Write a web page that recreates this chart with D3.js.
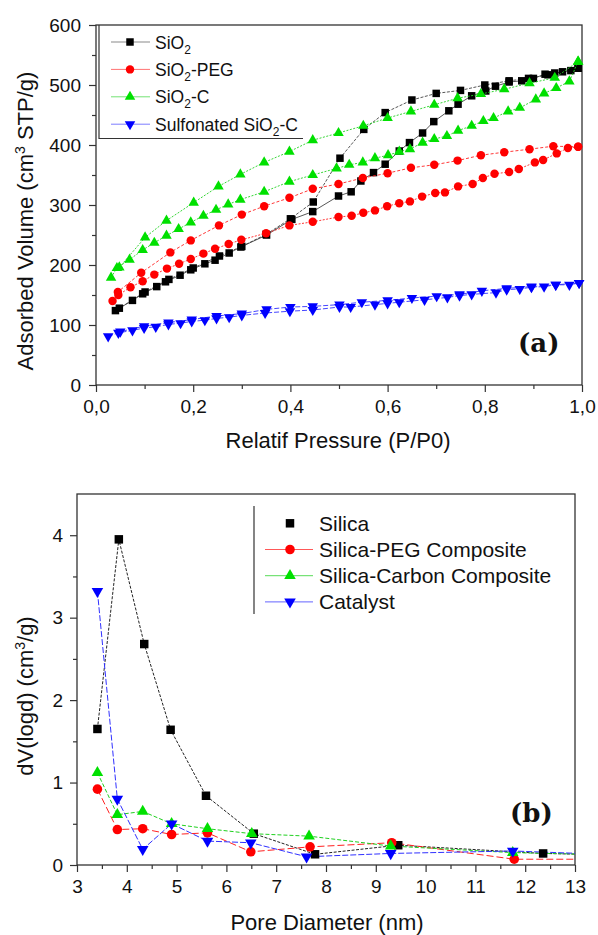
<!DOCTYPE html>
<html>
<head>
<meta charset="utf-8">
<script src="https://cdn.jsdelivr.net/npm/d3@7"></script>
<style>
  html, body { margin: 0; padding: 0; background: #fff; }
  svg { display: block; font-family: "Liberation Sans", Arial, sans-serif; }
</style>
</head>
<body>
<svg id="fig" width="598" height="935"></svg>
<script>
// ---------- Panel (a): N2 adsorption / desorption isotherms ----------
const pressureTicks = [0, 0.2, 0.4, 0.6, 0.8, 1.0];
const pressureMinor = [0.1, 0.3, 0.5, 0.7, 0.9];
const volumeTicks = [0, 100, 200, 300, 400, 500, 600];
const volumeMinor = [50, 150, 250, 350, 450, 550];
const legendA = ["SiO2", "SiO2-PEG", "SiO2-C", "Sulfonated SiO2-C"];

// SiO2
const sio2AdsP = [0.040,0.075,0.096,0.125,0.143,0.173,0.195,0.224,0.245,0.274,0.298,0.351,0.403,0.446,0.499,0.525,0.545,0.571,0.595,0.624,0.645,0.672,0.695,0.726,0.745,0.773,0.802,0.822,0.850,0.876,0.900,0.924,0.944,0.977,0.992];
const sio2AdsV = [124,141,152,164,172,183,192,202,208,220,230,250,276,289,315,322,340,354,368,390,404,420,439,457,468,482,490,498,505,507,511,518,520,524,528];
const sio2DesP = [0.992,0.960,0.930,0.890,0.850,0.800,0.750,0.700,0.650,0.595,0.551,0.502,0.447,0.400,0.350,0.300,0.254,0.200,0.150,0.101,0.048];
const sio2DesV = [528,522,517,511,507,500,491,486,475,454,426,378,305,277,251,231,215,195,176,155,128];

// SiO2-PEG
const pegAdsP = [0.034,0.046,0.071,0.096,0.120,0.146,0.171,0.195,0.221,0.245,0.273,0.299,0.350,0.398,0.446,0.499,0.526,0.550,0.574,0.599,0.624,0.646,0.671,0.698,0.718,0.745,0.775,0.796,0.820,0.850,0.870,0.903,0.920,0.948,0.971,0.992];
const pegAdsV = [140,150,163,173,184,194,202,210,219,227,235,242,253,266,272,280,282,287,291,298,303,306,314,320,321,331,335,345,352,355,360,371,375,386,395,397];
const pegDesP = [0.992,0.941,0.892,0.840,0.792,0.744,0.696,0.648,0.600,0.549,0.499,0.446,0.398,0.346,0.300,0.253,0.195,0.153,0.093,0.045];
const pegDesV = [397,398,393,388,383,374,367,362,353,345,335,327,312,298,284,266,241,221,187,155];

// SiO2-C
const carbAdsP = [0.031,0.043,0.069,0.096,0.120,0.145,0.170,0.195,0.221,0.247,0.272,0.297,0.346,0.398,0.446,0.495,0.521,0.549,0.574,0.601,0.624,0.646,0.672,0.696,0.722,0.745,0.773,0.797,0.818,0.848,0.872,0.905,0.922,0.947,0.974,0.992];
const carbAdsV = [179,195,209,225,237,249,260,271,282,292,301,309,322,339,350,361,367,371,378,383,389,393,404,410,415,424,432,440,445,456,462,476,486,495,506,539];
const carbDesP = [0.992,0.944,0.892,0.840,0.792,0.744,0.696,0.648,0.600,0.550,0.499,0.446,0.398,0.346,0.297,0.252,0.201,0.145,0.101,0.048];
const carbDesV = [539,512,503,493,485,478,467,456,445,432,420,408,389,371,351,331,304,274,246,196];

// Sulfonated SiO2-C
const sulfAdsP = [0.025,0.046,0.075,0.099,0.123,0.149,0.174,0.197,0.224,0.248,0.274,0.300,0.348,0.399,0.446,0.501,0.524,0.574,0.600,0.624,0.676,0.723,0.748,0.773,0.823,0.845,0.872,0.896,0.922,0.946,0.974,0.994];
const sulfAdsV = [81,87,91,95,97,101,103,106,108,111,113,116,120,123,125,130,130,134,136,138,142,146,149,151,154,159,160,163,164,167,167,170];
const sulfDesP = [0.994,0.946,0.896,0.845,0.794,0.748,0.701,0.650,0.600,0.547,0.501,0.446,0.400,0.351,0.300,0.248,0.197,0.149,0.099,0.050];
const sulfDesV = [170,167,164,161,157,151,148,145,141,138,134,131,130,126,119,115,109,104,98,89];

// ---------- Panel (b): pore size distribution ----------
const diameterTicks = [3,4,5,6,7,8,9,10,11,12,13];
const diameterMinor = [3.5,4.5,5.5,6.5,7.5,8.5,9.5,10.5,11.5,12.5];
const dvTicks = [0, 1, 2, 3, 4];
const dvMinor = [0.5, 1.5, 2.5, 3.5];
const legendB = ["Silica", "Silica-PEG Composite", "Silica-Carbon Composite", "Catalyst"];

const silicaD = [3.41,3.84,4.35,4.88,5.59,6.55,7.78,9.45,12.36,14.0];
const silicaV = [1.65,3.95,2.68,1.64,0.84,0.38,0.13,0.24,0.14,0.12];
const pegD    = [3.41,3.81,4.32,4.90,5.62,6.49,7.68,9.32,11.78,14.0];
const pegV    = [0.92,0.43,0.44,0.37,0.39,0.16,0.22,0.27,0.07,0.07];
const carbD   = [3.41,3.81,4.32,4.90,5.62,6.51,7.66,9.30,11.75,14.0];
const carbV   = [1.12,0.61,0.65,0.50,0.44,0.38,0.35,0.23,0.15,0.12];
const catD    = [3.41,3.81,4.32,4.90,5.62,6.49,7.61,9.30,11.75,14.0];
const catV    = [3.32,0.80,0.19,0.50,0.29,0.27,0.10,0.14,0.17,0.12];

const zip = (xs, ys) => xs.map((x, i) => [x, ys[i]]);
const svg = d3.select("#fig");
const tickColor = "#333";

// label text with the "2" of SiO2 set as a subscript
function richLabel(sel, str, subSize) {
  const parts = str.split("SiO2");
  let shiftBack = false;
  parts.forEach((p, i) => {
    if (p) {
      const t = sel.append("tspan").text(p);
      if (shiftBack) t.attr("dy", -5);
      shiftBack = false;
    }
    if (i < parts.length - 1) {
      sel.append("tspan").text("SiO");
      sel.append("tspan").attr("dy", 5).attr("font-size", subSize).text("2");
      shiftBack = true;
    }
  });
}

function drawAxes(g, x, y, opt) {
  const bottom = y.range()[0], top = y.range()[1];
  const left = x.range()[0], right = x.range()[1];
  const major = d3.axisBottom(x).tickValues(opt.xTicks).tickSize(7).tickPadding(8).tickFormat(opt.xFmt);
  const minor = d3.axisBottom(x).tickValues(opt.xMinor).tickSize(4).tickFormat("");
  const ymaj = d3.axisLeft(y).tickValues(opt.yTicks).tickSize(7).tickPadding(opt.yPad).tickFormat(opt.yFmt);
  const ymin = d3.axisLeft(y).tickValues(opt.yMinor).tickSize(4).tickFormat("");
  [[major, "x"], [minor, "x"], [ymaj, "y"], [ymin, "y"]].forEach(([ax, k]) => {
    const a = g.append("g")
      .attr("transform", k === "x" ? `translate(0,${bottom})` : `translate(${left},0)`)
      .call(ax);
    a.select(".domain").remove();
    a.selectAll("line").attr("stroke", tickColor).attr("stroke-width", 1.2);
    a.selectAll("text").attr("font-size", 19).attr("fill", "#111")
      .attr("font-family", '"Liberation Sans", Arial, sans-serif');
  });
  g.append("rect").attr("x", left).attr("y", top)
    .attr("width", right - left).attr("height", bottom - top)
    .attr("fill", "none").attr("stroke", tickColor).attr("stroke-width", 1.3);
}

// ================= Panel (a) =================
const xa = d3.scaleLinear().domain([0, 1]).range([96, 582]);
const ya = d3.scaleLinear().domain([0, 600]).range([385, 25]);
const ga = svg.append("g");
const commaFmt = d => d3.format(".1f")(d).replace(".", ",");
drawAxes(ga, xa, ya, {
  xTicks: pressureTicks, xMinor: pressureMinor, xFmt: commaFmt,
  yTicks: volumeTicks, yMinor: volumeMinor, yFmt: d3.format("d"), yPad: 8
});

const seriesA = [
  { color: "#000", line: "#444", sym: d3.symbolSquare, size: 56, rot: 0,
    ads: zip(sio2AdsP, sio2AdsV), des: zip(sio2DesP, sio2DesV), dashA: "none", dashD: "3,1.5" },
  { color: "#ff0000", line: "#ff2020", sym: d3.symbolCircle, size: 56, rot: 0,
    ads: zip(pegAdsP, pegAdsV), des: zip(pegDesP, pegDesV), dashA: "2,1.5", dashD: "3,2" },
  { color: "#00e000", line: "#20d020", sym: d3.symbolTriangle, size: 48, rot: 0,
    ads: zip(carbAdsP, carbAdsV), des: zip(carbDesP, carbDesV), dashA: "2,1.5", dashD: "2,1.5" },
  { color: "#0000ff", line: "#3030ff", sym: d3.symbolTriangle, size: 48, rot: 180,
    ads: zip(sulfAdsP, sulfAdsV), des: zip(sulfDesP, sulfDesV), dashA: "5,2", dashD: "5,2" }
];

const lineA = d3.line().x(d => xa(d[0])).y(d => ya(d[1]));
seriesA.forEach(s => {
  [[s.ads, s.dashA], [s.des, s.dashD]].forEach(([pts, dash]) => {
    ga.append("path").attr("d", lineA(pts)).attr("fill", "none")
      .attr("stroke", s.line).attr("stroke-width", 0.9).attr("stroke-dasharray", dash);
  });
  const sym = d3.symbol().type(s.sym).size(s.size)();
  ga.append("g").selectAll("path").data(s.ads.concat(s.des)).join("path")
    .attr("d", sym)
    .attr("transform", d => `translate(${xa(d[0])},${ya(d[1])}) rotate(${s.rot})`)
    .attr("fill", s.color);
});

// legend (a)
const legA = ga.append("g");
legA.append("path").attr("d", "M99,25V138.5H303").attr("fill", "none")
  .attr("stroke", tickColor).attr("stroke-width", 1.2);
seriesA.forEach((s, i) => {
  const cy = 42 + i * 27.4;
  legA.append("line").attr("x1", 111).attr("x2", 150).attr("y1", cy).attr("y2", cy)
    .attr("stroke", s.line).attr("stroke-width", 0.9).attr("stroke-opacity", 0.7);
  legA.append("path").attr("d", d3.symbol().type(s.sym).size(s.size)())
    .attr("transform", `translate(130,${cy}) rotate(${s.rot})`).attr("fill", s.color);
  const t = legA.append("text").attr("x", 155).attr("y", cy + 6.5)
    .attr("font-size", 17.5).attr("fill", "#111");
  richLabel(t, legendA[i], 12);
});

// titles (a)
ga.append("text").attr("x", 338).attr("y", 448).attr("text-anchor", "middle")
  .attr("font-size", 22).attr("fill", "#111").text("Relatif Pressure (P/P0)");
const yta = ga.append("text").attr("transform", "translate(33,221) rotate(-90)")
  .attr("text-anchor", "middle").attr("font-size", 22).attr("fill", "#111");
yta.append("tspan").text("Adsorbed Volume (cm");
yta.append("tspan").attr("dy", -8).attr("font-size", 14).text("3");
yta.append("tspan").attr("dy", 8).text(" STP/g)");
ga.append("text").attr("x", 518).attr("y", 352)
  .attr("font-family", '"DejaVu Serif", "Liberation Serif", serif')
  .attr("font-weight", "bold").attr("font-size", 26).attr("fill", "#111").text("(a)");

// ================= Panel (b) =================
const xb = d3.scaleLinear().domain([3, 13]).range([77, 575]);
const yb = d3.scaleLinear().domain([0, 4.5]).range([865, 494]);
const gb = svg.append("g");
drawAxes(gb, xb, yb, {
  xTicks: diameterTicks, xMinor: diameterMinor, xFmt: d3.format("d"),
  yTicks: dvTicks, yMinor: dvMinor, yFmt: d3.format("d"), yPad: 7
});

svg.append("defs").append("clipPath").attr("id", "clipB")
  .append("rect").attr("x", 77).attr("y", 494).attr("width", 498).attr("height", 371);

const seriesB = [
  { color: "#000", line: "#222", sym: d3.symbolSquare, size: 72, rot: 0, pts: zip(silicaD, silicaV), dash: "3,1.5", legLine: false },
  { color: "#ff0000", line: "#ff2020", sym: d3.symbolCircle, size: 72, rot: 0, pts: zip(pegD, pegV), dash: "7,3", legLine: true },
  { color: "#00e000", line: "#20d020", sym: d3.symbolTriangle, size: 58, rot: 0, pts: zip(carbD, carbV), dash: "4,2", legLine: true },
  { color: "#0000ff", line: "#3030ff", sym: d3.symbolTriangle, size: 58, rot: 180, pts: zip(catD, catV), dash: "6,2", legLine: true }
];

const plotB = gb.append("g").attr("clip-path", "url(#clipB)");
const lineB = d3.line().x(d => xb(d[0])).y(d => yb(d[1]));
seriesB.forEach(s => {
  plotB.append("path").attr("d", lineB(s.pts)).attr("fill", "none")
    .attr("stroke", s.line).attr("stroke-width", 1).attr("stroke-dasharray", s.dash);
});
seriesB.forEach(s => {
  const sym = d3.symbol().type(s.sym).size(s.size)();
  plotB.append("g").selectAll("path").data(s.pts.filter(d => d[0] <= 13)).join("path")
    .attr("d", sym)
    .attr("transform", d => `translate(${xb(d[0])},${yb(d[1])}) rotate(${s.rot})`)
    .attr("fill", s.color);
});

// legend (b)
const legB = gb.append("g");
legB.append("line").attr("x1", 254).attr("x2", 254).attr("y1", 506).attr("y2", 614)
  .attr("stroke", tickColor).attr("stroke-width", 1.2);
seriesB.forEach((s, i) => {
  const cy = 523.3 + i * 26.2;
  if (s.legLine) {
    legB.append("line").attr("x1", 265).attr("x2", 313).attr("y1", cy).attr("y2", cy)
      .attr("stroke", s.line).attr("stroke-width", 1).attr("stroke-opacity", 0.75);
  }
  legB.append("path").attr("d", d3.symbol().type(s.sym).size(s.size)())
    .attr("transform", `translate(290,${cy}) rotate(${s.rot})`).attr("fill", s.color);
  legB.append("text").attr("x", 319).attr("y", cy + 7.5)
    .attr("font-size", 21).attr("fill", "#111").text(legendB[i]);
});

// titles (b)
gb.append("text").attr("x", 327).attr("y", 930).attr("text-anchor", "middle")
  .attr("font-size", 22).attr("fill", "#111").text("Pore Diameter (nm)");
const ytb = gb.append("text").attr("transform", "translate(33,696) rotate(-90)")
  .attr("text-anchor", "middle").attr("font-size", 22).attr("fill", "#111");
ytb.append("tspan").text("dV(logd) (cm");
ytb.append("tspan").attr("dy", -8).attr("font-size", 14).text("3");
ytb.append("tspan").attr("dy", 8).text("/g)");
gb.append("text").attr("x", 510).attr("y", 822)
  .attr("font-family", '"DejaVu Serif", "Liberation Serif", serif')
  .attr("font-weight", "bold").attr("font-size", 26).attr("fill", "#111").text("(b)");
</script>
</body>
</html>
